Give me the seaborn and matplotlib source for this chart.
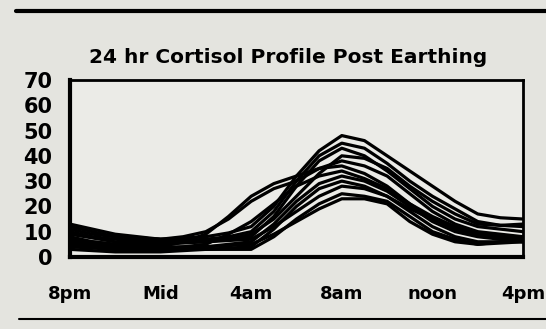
"""
24 hr cortisol profile after earthing: one thick black line per subject.
Writes out.png (546x329).
"""
import matplotlib

matplotlib.use("Agg")
import matplotlib.pyplot as plt
import pandas as pd
import seaborn as sns
from matplotlib.lines import Line2D

# hours after 8pm, hourly samples
hours = list(range(21))
tick_hours = [0, 4, 8, 12, 16, 20]
tick_labels = ["8pm", "Mid", "4am", "8am", "noon", "4pm"]
y_ticks = [0, 10, 20, 30, 40, 50, 60, 70]

# cortisol level per subject
s01 = [11, 9, 8, 7.5, 7, 7.5, 8, 9.5, 12, 20, 32, 42, 48, 46, 40, 34, 28, 22, 17, 15.5, 15]
s02 = [9, 7.5, 6, 6, 6, 6.5, 7, 8, 10, 18, 30, 40, 45, 43, 37, 30, 24, 19, 14, 12.5, 12]
s03 = [7, 6, 5, 5, 5, 5.5, 6, 7, 8, 16, 28, 38, 43, 40, 34, 27, 20, 15, 12, 11, 10]
s04 = [12, 10, 8, 7.5, 7, 8, 10, 15, 22, 27, 30, 35, 38, 36, 32, 25, 18, 13, 10, 9, 8]
s05 = [6, 5, 4, 4, 4, 6, 9, 16, 24, 29, 32, 35, 36, 33, 28, 21, 15, 11, 9, 8, 7]
s06 = [5, 4, 3, 3, 3, 4, 5, 9, 14, 21, 28, 32, 34, 31, 27, 21, 16, 12, 9, 8, 8]
s07 = [8, 6, 5, 4.5, 4, 4, 4, 5, 6, 13, 22, 29, 32, 30, 26, 20, 14, 10, 8, 7, 6]
s08 = [4, 3.5, 3, 3, 3, 3, 3, 3.5, 4, 11, 20, 27, 30, 28, 24, 18, 12, 8, 6, 6, 6]
s09 = [10, 8, 7, 6.5, 6, 6, 6, 6.5, 7, 12, 18, 24, 28, 27, 24, 19, 15, 11, 9, 8, 7]
s10 = [3, 2.5, 2, 2, 2, 2.5, 3, 3, 3, 8, 15, 21, 25, 24, 22, 16, 10, 7, 5, 5.5, 6]
s11 = [6, 5, 4, 3.5, 3, 3, 4, 4.5, 5, 9, 14, 19, 23, 23, 21, 14, 9, 6, 5, 6, 8]
s12 = [13, 11, 9, 8, 7, 6.5, 6, 7, 9, 15, 24, 33, 40, 39, 35, 28, 22, 17, 13, 12.5, 13]
subjects = [s01, s02, s03, s04, s05, s06, s07, s08, s09, s10, s11, s12]

rows = []
for i, vals in enumerate(subjects):
    for h, v in zip(hours, vals):
        rows.append({"subject": f"S{i + 1}", "hour": h, "cortisol": v})
df = pd.DataFrame(rows)

sns.set_theme(style="white")
plt.rcParams["font.family"] = ["DejaVu Sans"]
plt.rcParams["text.color"] = "black"
plt.rcParams["xtick.color"] = "black"
plt.rcParams["ytick.color"] = "black"

bg = "#e4e4df"
fig = plt.figure(figsize=(5.46, 3.29), dpi=100, facecolor=bg)
ax = fig.add_axes([0.128, 0.219, 0.830, 0.538])
ax.set_facecolor("#ebebe7")

sns.lineplot(
    data=df,
    x="hour",
    y="cortisol",
    hue="subject",
    palette=["black"] * len(subjects),
    linewidth=2.3,
    legend=False,
    ax=ax,
)

ax.set_xlim(0, 20)
ax.set_ylim(0, 70)
ax.set_xticks(tick_hours)
ax.set_xticklabels(tick_labels)
ax.set_yticks(y_ticks)
ax.set_xlabel("")
ax.set_ylabel("")
ax.tick_params(axis="x", direction="out", length=5, width=2, pad=15,
               labelsize=13, color="black", labelcolor="black")
ax.tick_params(axis="y", direction="inout", length=9, width=2, pad=8,
               labelsize=15, color="black", labelcolor="black")
for lbl in ax.get_xticklabels() + ax.get_yticklabels():
    lbl.set_fontweight("bold")
for side in ["left", "bottom"]:
    ax.spines[side].set_linewidth(3)
    ax.spines[side].set_color("black")
for side in ["top", "right"]:
    ax.spines[side].set_linewidth(2)
    ax.spines[side].set_color("black")

fig.text(0.528, 0.826, "24 hr Cortisol Profile Post Earthing",
         ha="center", va="center", fontsize=14.5, fontweight="bold",
         color="black")

# frame lines of the scanned figure
fig.add_artist(Line2D([0.03, 1.0], [0.966, 0.966], color="black", lw=3))
fig.add_artist(Line2D([0.035, 1.0], [0.03, 0.03], color="black", lw=1.5))

fig.savefig("out.png", dpi=100, facecolor=bg)
